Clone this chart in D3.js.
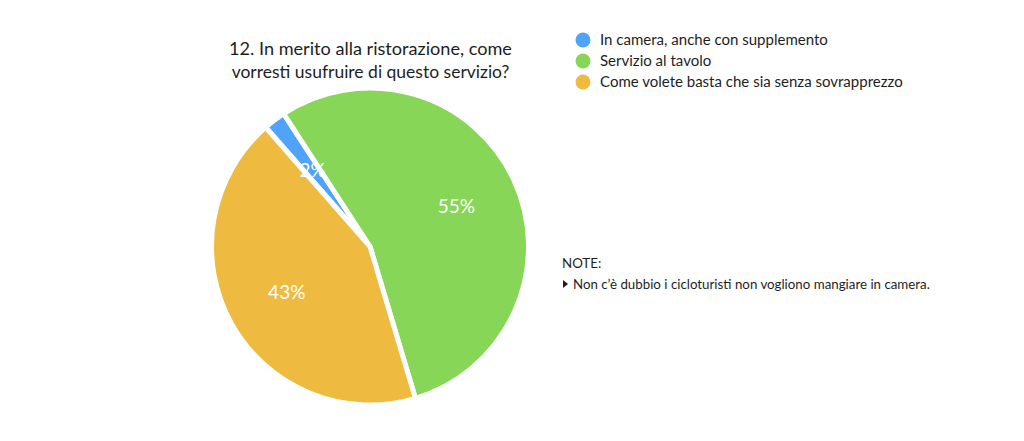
<!DOCTYPE html>
<html><head><meta charset="utf-8">
<script src="https://cdn.jsdelivr.net/npm/d3@7"></script>
<style>body{margin:0;background:#fff}svg{display:block}text{font-family:Lato,"Noto Sans",sans-serif}</style>
</head><body>
<svg id="c" width="1024" height="441"></svg>
<script>
const categories = ["In camera, anche con supplemento","Servizio al tavolo","Come volete basta che sia senza sovrapprezzo"];
const values = [1, 24, 19];
const colors = ["#4fa3f8","#87d657","#eebb40"];
const titleLines = ["12. In merito alla ristorazione, come","vorresti usufruire di questo servizio?"];
const noteTitle = "NOTE:";
const notes = ["Non c\u2019è dubbio i cicloturisti non vogliono mangiare in camera."];

const svg = d3.select("#c");
const cx = 370, cy = 246.5, r = 158.5;
const total = d3.sum(values);
const pie = d3.pie().sort(null).startAngle(-41.2*Math.PI/180).endAngle((360-41.2)*Math.PI/180);
const arcs = pie(values);
const arc = d3.arc().innerRadius(0).outerRadius(r);
const g = svg.append("g").attr("transform",`translate(${cx},${cy})`);
g.selectAll("path").data(arcs).join("path").attr("d",arc)
  .attr("fill",(d,i)=>colors[i]).attr("stroke","#fff").attr("stroke-width",5).attr("stroke-linejoin","round");
const labelArc = d3.arc().innerRadius(r*0.6).outerRadius(r*0.6);
g.selectAll("text.lbl").data(arcs).join("text").attr("class","lbl")
  .attr("transform",d=>`translate(${labelArc.centroid(d)})`)
  .attr("text-anchor","middle").attr("dy","0.35em")
  .attr("fill","#fff").attr("font-size",19)
  .text(d=>Math.round(d.value/total*100)+"%");

function fit(sel, w){ const n=sel.node(); const cw=n.getComputedTextLength(); const fs=+sel.attr("font-size"); sel.attr("font-size", fs*w/cw); }

const t = svg.append("g");
titleLines.forEach((l,i)=>{
  const s = t.append("text").attr("x",370.5).attr("y",55+i*23).attr("text-anchor","middle")
    .attr("fill","#1e1e1e").attr("font-size",20).text(l);
  fit(s, i==0?283:278);
});

const lg = svg.append("g");
categories.forEach((c,i)=>{
  const y = 40 + i*21;
  lg.append("circle").attr("cx",583).attr("cy",y).attr("r",7.5).attr("fill",colors[i]);
  const s = lg.append("text").attr("x",600).attr("y",y).attr("dy","0.35em").attr("fill","#1e1e1e").attr("font-size",15).text(c);
  if(i==2) fit(s,303);
});
const lfs = lg.selectAll("text").filter((d,i)=>i==2).attr("font-size");
lg.selectAll("text").attr("font-size",lfs);

const ng = svg.append("g");
ng.append("text").attr("x",562).attr("y",268).attr("fill","#1e1e1e").attr("font-size",13).text(noteTitle);
notes.forEach((n,i)=>{
  const y = 289 + i*21;
  ng.append("path").attr("d",`M563,${y-9}L568,${y-5}L563,${y-1}Z`).attr("fill","#1e1e1e");
  const s = ng.append("text").attr("x",573).attr("y",y).attr("fill","#1e1e1e").attr("font-size",13).text(n);
  fit(s,357);
  ng.select("text").attr("font-size", s.attr("font-size"));
});
</script>
</body></html>
